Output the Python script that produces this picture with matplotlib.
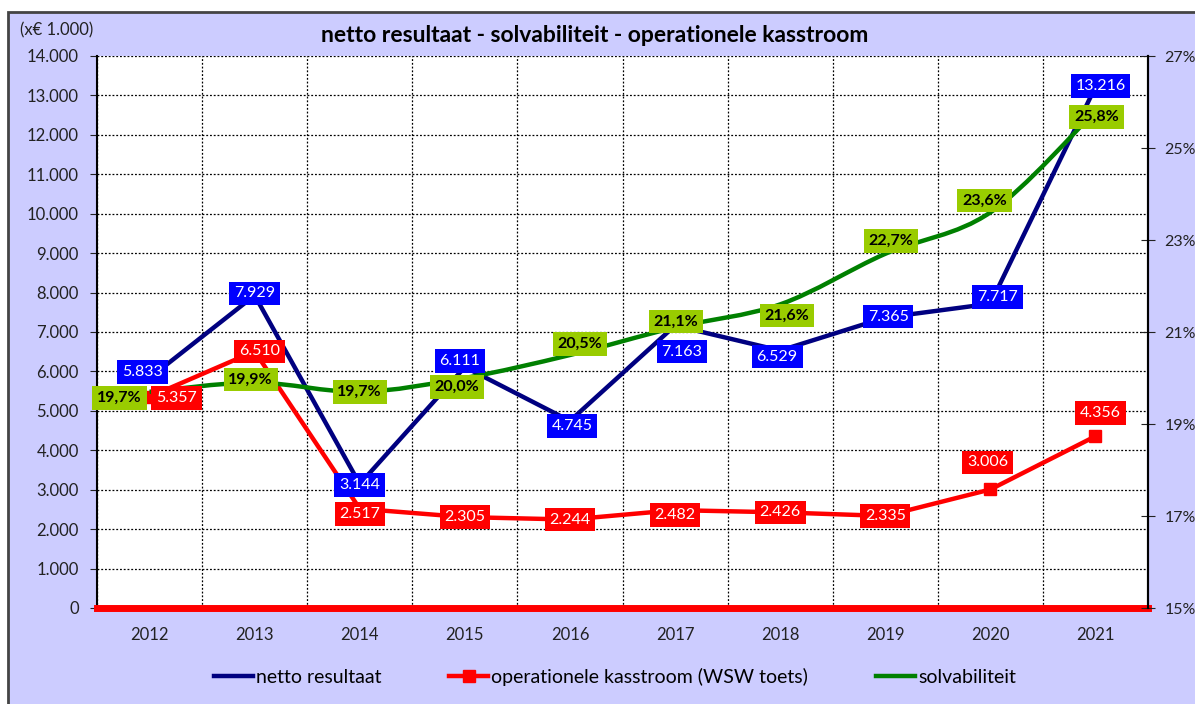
import numpy as np
import matplotlib.pyplot as plt
from matplotlib.patches import Rectangle, PathPatch
from matplotlib.path import Path
from matplotlib.lines import Line2D
from matplotlib.ticker import FuncFormatter, MultipleLocator

plt.rcParams['font.family'] = ['Lato', 'DejaVu Sans']

years = ['2012', '2013', '2014', '2015', '2016', '2017', '2018', '2019', '2020', '2021']
netto = [5833, 7929, 3144, 6111, 4745, 7163, 6529, 7365, 7717, 13216]
kasstroom = [5357, 6510, 2517, 2305, 2244, 2482, 2426, 2335, 3006, 4356]
solv = [19.7, 19.9, 19.7, 20.0, 20.5, 21.1, 21.6, 22.7, 23.6, 25.8]

# label box offsets in pixels (dx, dy)
netto_off = [(-7, 6), (0, 2), (0, -1), (-5, 6), (2, -5), (7, -26), (-3, -6), (3, 1), (7, 7), (5, 1)]
kas_off = [(27, -1), (5, 0), (0, -5), (0, 0), (0, 0), (0, -5), (0, 0), (0, 0), (-3, 27), (5, 23)]
solv_off = [(-30, -6), (-4, 3), (0, 0), (-8, -9), (10, 11), (1, 6), (7, -11), (6, 13), (-6, 12), (1, -6)]

x = np.arange(len(years))

fig = plt.figure(figsize=(11.95, 7.04), dpi=100, facecolor='white')
fig.patches.append(Rectangle((8/1195, -0.01), 1.0, 1 - 12/704 + 0.01, transform=fig.transFigure,
                             facecolor='#CCCCFF', edgecolor='#444444', lw=2, zorder=-10))

ax = fig.add_axes([97/1195, 1 - 608/704, (1148 - 97)/1195, (608 - 56)/704])
ax.set_facecolor('white')
ax.set_xlim(-0.5, 9.5)
ax.set_ylim(0, 14000)
ax.yaxis.set_major_locator(MultipleLocator(1000))
ax.yaxis.set_major_formatter(FuncFormatter(lambda v, p: f'{int(v):,}'.replace(',', '.')))
ax.set_xticks(x)
ax.set_xticklabels(years)
ax.set_xticks(np.arange(-0.5, 10, 1), minor=True)
ax.grid(True, which='major', axis='y', color='black', ls=(0, (1.5, 1.5)), lw=0.9)
ax.grid(True, which='minor', axis='x', color='black', ls=(0, (1.5, 1.5)), lw=0.9)
ax.tick_params(axis='x', which='both', length=0, pad=14, labelsize=12, colors='#222222')
ax.tick_params(axis='y', direction='out', length=5, pad=8, labelsize=12, colors='#222222')
for s in ['top', 'bottom']:
    ax.spines[s].set_visible(False)
ax.spines['left'].set_linewidth(1.5)
ax.spines['right'].set_linewidth(1.5)

ax2 = ax.twinx()
ax2.set_ylim(15, 27)
ax2.set_yticks([15, 17, 19, 21, 23, 25, 27])
ax2.set_yticklabels([f'{v}%' for v in [15, 17, 19, 21, 23, 25, 27]])
ax2.tick_params(axis='y', direction='inout', length=10, pad=7, labelsize=11.5, colors='#222222')
for s in ['top', 'bottom', 'left']:
    ax2.spines[s].set_visible(False)
ax2.spines['right'].set_linewidth(1.5)

# thick red baseline
ax.axhline(0, color='#FF0000', lw=5, clip_on=False, zorder=5)

l1, = ax.plot(x, netto, color='#000080', lw=3.2, zorder=3)
l2, = ax.plot(x, kasstroom, color='#FF0000', lw=3.2, marker='s', ms=9, zorder=3)

# smoothed solvabiliteit line (bezier through the points)
pts = np.column_stack([x, solv]).astype(float)
verts = [pts[0]]
codes = [Path.MOVETO]
n = len(pts)
for i in range(n - 1):
    p0 = pts[max(i - 1, 0)]
    p1 = pts[i]
    p2 = pts[i + 1]
    p3 = pts[min(i + 2, n - 1)]
    verts += [p1 + (p2 - p0) / 6, p2 - (p3 - p1) / 6, p2]
    codes += [Path.CURVE4] * 3
ax2.add_patch(PathPatch(Path(verts, codes), fc='none', ec='#008000', lw=3.2, zorder=3))
l3 = Line2D([], [], color='#008000', lw=3.2)

def fmt(v):
    return f'{v:,}'.replace(',', '.')

for xi, v, (dx, dy) in zip(x, netto, netto_off):
    ax2.annotate(fmt(v), (xi, v), xycoords=ax.transData, xytext=(dx, dy), textcoords='offset pixels',
                 ha='center', va='center', fontsize=11.5, color='white', zorder=6,
                 bbox=dict(boxstyle='square,pad=0.3', fc='#0000FF', ec='none'))
for xi, v, (dx, dy) in zip(x, kasstroom, kas_off):
    ax2.annotate(fmt(v), (xi, v), xycoords=ax.transData, xytext=(dx, dy), textcoords='offset pixels',
                 ha='center', va='center', fontsize=11.5, color='white', zorder=6,
                 bbox=dict(boxstyle='square,pad=0.3', fc='#FF0000', ec='none'))
for xi, v, (dx, dy) in zip(x, solv, solv_off):
    ax2.annotate(f'{v:.1f}%'.replace('.', ','), (xi, v), xytext=(dx, dy), textcoords='offset pixels',
                 ha='center', va='center', fontsize=11.5, fontweight='bold', color='black', zorder=6,
                 bbox=dict(boxstyle='square,pad=0.3', fc='#99CC00', ec='none'))

fig.text(20/1195, 1 - 30/704, '(x€ 1.000)', fontsize=12, color='#222222', va='center')
fig.text(595/1195, 1 - 36/704, 'netto resultaat - solvabiliteit - operationele kasstroom',
         fontsize=16.5, fontweight='bold', ha='center', va='center')

fig.legend([l1, l2, l3], ['netto resultaat', 'operationele kasstroom (WSW toets)', 'solvabiliteit'],
           loc='center', bbox_to_anchor=(615/1195, 1 - 677/704), ncol=3, frameon=False,
           fontsize=14, handlelength=2.0, handletextpad=0.15, columnspacing=3.5)

fig.savefig('out.png', dpi=100, facecolor='white')
